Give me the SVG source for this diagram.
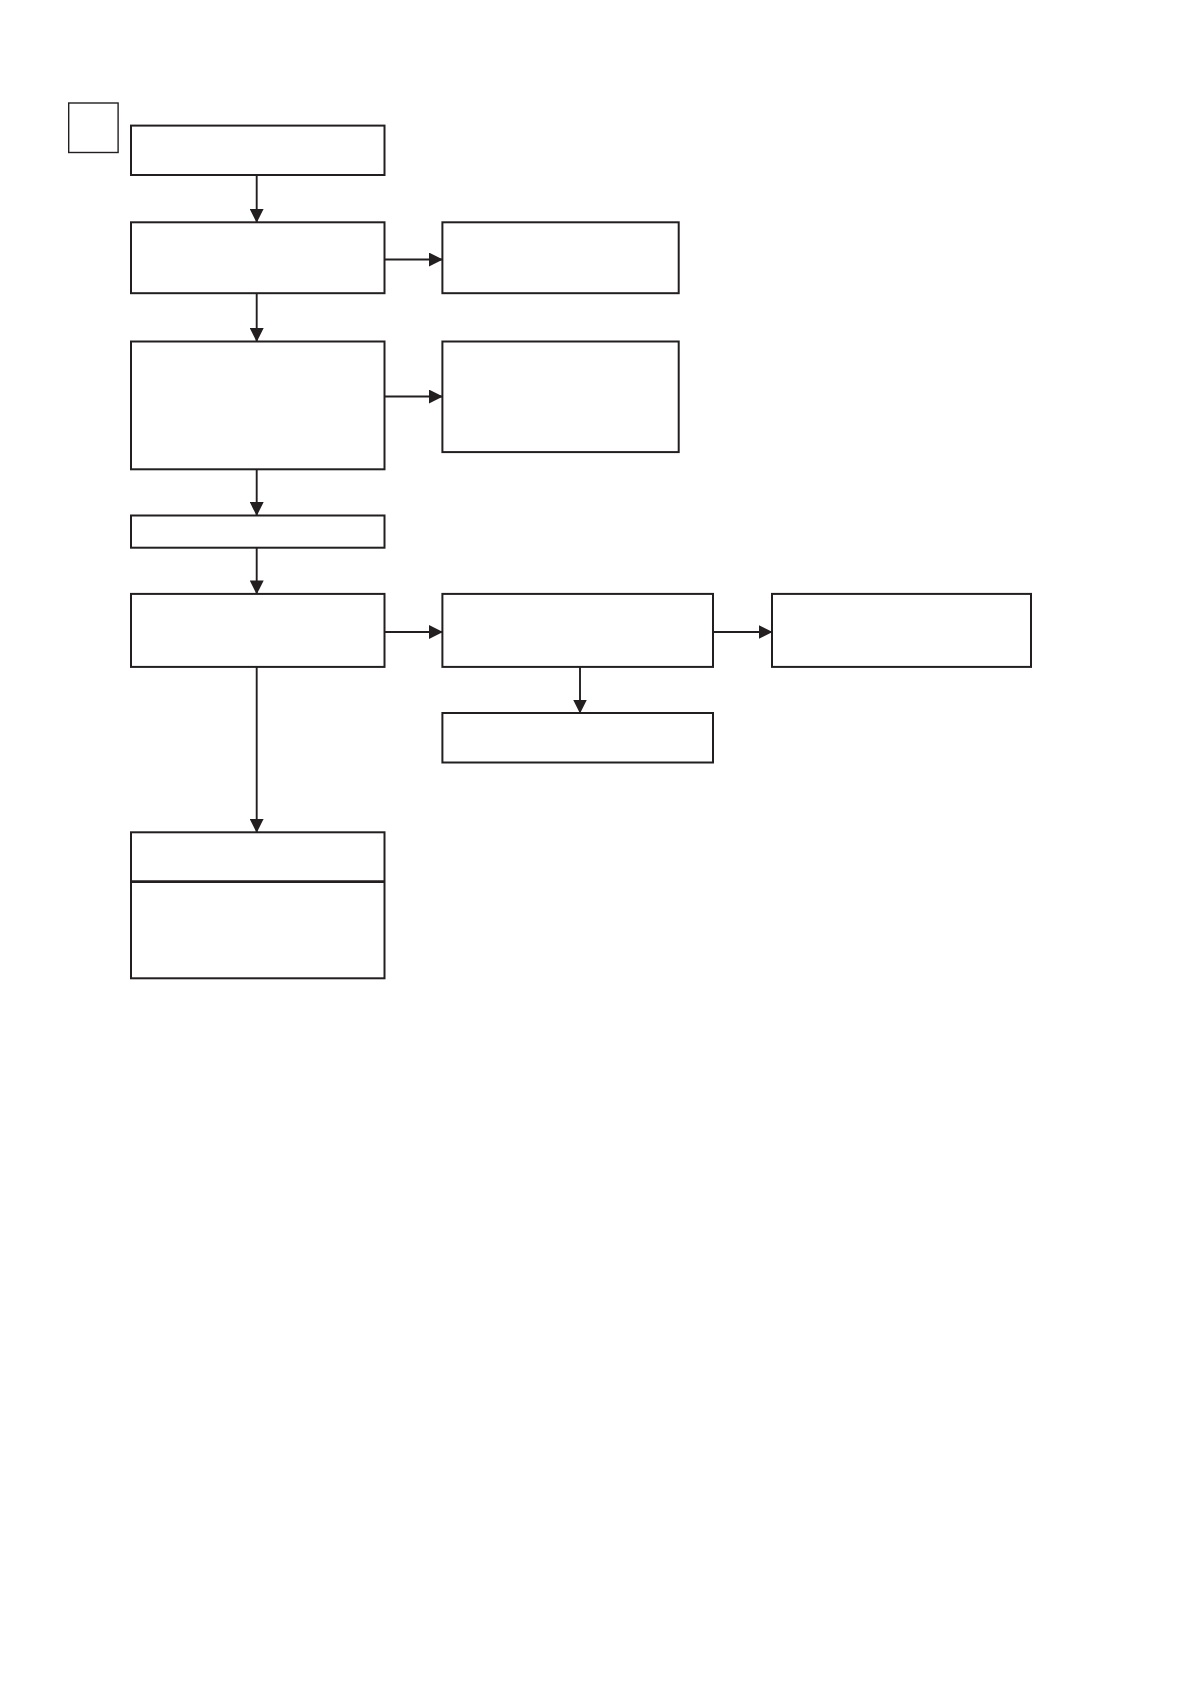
<svg xmlns="http://www.w3.org/2000/svg" width="1191" height="1684" viewBox="0 0 1191 1684">
<style>
.box{fill:#ffffff;stroke:#231f20;stroke-width:2}
.thin{fill:#ffffff;stroke:#231f20;stroke-width:1.4}
.div{stroke:#231f20;stroke-width:2.8}
.conn{fill:none;stroke:#231f20;stroke-width:1.9}
</style>
<defs>
<marker id="ah" markerUnits="userSpaceOnUse" markerWidth="14" markerHeight="14" refX="13.5" refY="7" orient="auto">
<path d="M0,0 L14,7 L0,14 z" fill="#231f20"/>
</marker>
</defs>
<rect width="1191" height="1684" fill="#ffffff"/>
<g id="tag"><rect class="thin" x="68.7" y="103" width="49.4" height="49.5"/></g>
<g id="n1"><rect class="box" x="131" y="125.6" width="253.5" height="49.4"/></g>
<g id="n2"><rect class="box" x="131" y="222.3" width="253.5" height="70.9"/></g>
<g id="n2r"><rect class="box" x="442.4" y="222.3" width="236.3" height="70.9"/></g>
<g id="n3"><rect class="box" x="131" y="341.5" width="253.5" height="127.8"/></g>
<g id="n3r"><rect class="box" x="442.4" y="341.5" width="236.3" height="110.6"/></g>
<g id="n4"><rect class="box" x="131" y="515.5" width="253.5" height="32.2"/></g>
<g id="n5"><rect class="box" x="131" y="593.9" width="253.5" height="73"/></g>
<g id="n6"><rect class="box" x="442.4" y="593.9" width="270.6" height="73"/></g>
<g id="n7"><rect class="box" x="772" y="593.9" width="259" height="73"/></g>
<g id="n8"><rect class="box" x="442.4" y="713" width="270.6" height="49.5"/></g>
<g id="n9"><rect class="box" x="131" y="832.3" width="253.5" height="146"/><line class="div" x1="131" y1="881.7" x2="384.5" y2="881.7"/></g>
<g id="connectors">
<line class="conn" x1="256.7" y1="175" x2="256.7" y2="222.3" marker-end="url(#ah)"/>
<line class="conn" x1="256.7" y1="293.2" x2="256.7" y2="341.5" marker-end="url(#ah)"/>
<line class="conn" x1="256.7" y1="469.3" x2="256.7" y2="515.5" marker-end="url(#ah)"/>
<line class="conn" x1="256.7" y1="547.7" x2="256.7" y2="593.9" marker-end="url(#ah)"/>
<line class="conn" x1="256.7" y1="666.9" x2="256.7" y2="832.3" marker-end="url(#ah)"/>
<line class="conn" x1="384.5" y1="259.5" x2="442.4" y2="259.5" marker-end="url(#ah)"/>
<line class="conn" x1="384.5" y1="396.5" x2="442.4" y2="396.5" marker-end="url(#ah)"/>
<line class="conn" x1="384.5" y1="632" x2="442.4" y2="632" marker-end="url(#ah)"/>
<line class="conn" x1="713" y1="632" x2="772" y2="632" marker-end="url(#ah)"/>
<line class="conn" x1="580" y1="666.9" x2="580" y2="713" marker-end="url(#ah)"/>
</g>
</svg>
